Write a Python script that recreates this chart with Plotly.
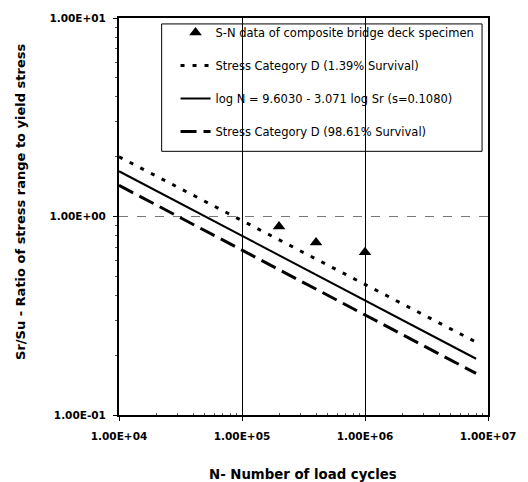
import plotly.graph_objects as go

# ---- data ----
fit_N = [1e4, 8e6]
upper_ratio = [2.0, 0.233]      # Stress Category D (1.39% Survival)
mean_ratio = [1.69, 0.192]      # log N = 9.6030 - 3.071 log Sr
lower_ratio = [1.435, 0.162]    # Stress Category D (98.61% Survival)

test_N = [2e5, 4e5, 1e6]
test_ratio = [0.89, 0.74, 0.66]

x_tickvals = [1e4, 1e5, 1e6, 1e7]
x_ticktext = ["1.00E+04", "1.00E+05", "1.00E+06", "1.00E+07"]
y_tickvals = [0.1, 1, 10]
y_ticktext = ["1.00E-01", "1.00E+00", "1.00E+01"]

names = [
    "S-N data of composite bridge deck specimen",
    "Stress Category D (1.39% Survival)",
    "log N = 9.6030 - 3.071 log Sr (s=0.1080)",
    "Stress Category D (98.61% Survival)",
]

x_minor = [m * 10 ** e for e in range(4, 7) for m in range(2, 10)]
y_minor = [m * 10 ** e for e in range(-1, 1) for m in range(2, 10)]

FONT = "DejaVu Sans, sans-serif"

fig = go.Figure()
fig.add_trace(go.Scatter(x=test_N, y=test_ratio, mode="markers", name=names[0],
                         legendgroup="a",
                         marker=dict(symbol="triangle-up", size=11, color="black")))
fig.add_trace(go.Scatter(x=fit_N, y=upper_ratio, mode="lines", name=names[1],
                         legendgroup="b",
                         line=dict(color="black", width=3, dash="4px,8px")))
fig.add_trace(go.Scatter(x=fit_N, y=mean_ratio, mode="lines", name=names[2],
                         legendgroup="c",
                         line=dict(color="black", width=2)))
fig.add_trace(go.Scatter(x=fit_N, y=lower_ratio, mode="lines", name=names[3],
                         legendgroup="d",
                         line=dict(color="black", width=3, dash="16px,7px")))

L, R, T, B = 119, 491, 13, 415
W, H = 528, 482
pw, ph = R - L, B - T


def px_x(p):
    return (p - L) / pw


def px_y(p):
    return (B - p) / ph


tickfont = dict(size=10.5, family=FONT, color="black", weight="bold")

fig.update_layout(
    width=W, height=H,
    margin=dict(l=L, r=W - R, t=T, b=H - B),
    paper_bgcolor="white", plot_bgcolor="white",
    font=dict(family=FONT, color="black"),
    showlegend=True,
    legend=dict(x=px_x(176), y=px_y(13), xanchor="left", yanchor="top",
                bgcolor="rgba(0,0,0,0)", borderwidth=0,
                font=dict(size=11.5, family=FONT, color="black"),
                traceorder="grouped", tracegroupgap=14),
    xaxis=dict(type="log", range=[4, 7], tickmode="array",
               tickvals=x_tickvals, ticktext=x_ticktext, tickfont=tickfont,
               ticklabelstandoff=6,
               showline=True, linecolor="black", linewidth=2, mirror=True,
               ticks="outside", ticklen=4, tickcolor="black",
               showgrid=True, gridcolor="black", gridwidth=1,
               zeroline=False,
               minor=dict(tickmode="array", tickvals=x_minor, ticks="inside",
                          ticklen=2, tickcolor="#555", showgrid=False)),
    yaxis=dict(type="log", range=[-1, 1], tickmode="array",
               tickvals=y_tickvals, ticktext=y_ticktext, tickfont=tickfont,
               ticklabelstandoff=5,
               showline=True, linecolor="black", linewidth=2, mirror=True,
               ticks="outside", ticklen=4, tickcolor="black",
               showgrid=True, gridcolor="#777", gridwidth=1, griddash="dash",
               zeroline=False,
               minor=dict(tickmode="array", tickvals=y_minor, ticks="outside",
                          ticklen=2, tickcolor="#555", showgrid=False)),
)

# legend box
fig.add_shape(type="rect", xref="paper", yref="paper",
              x0=px_x(162), x1=px_x(485), y0=px_y(148), y1=px_y(19),
              line=dict(color="black", width=1), fillcolor="white", layer="below")

# axis titles
fig.add_annotation(text="N- Number of load cycles", xref="paper", yref="paper",
                   x=px_x(304), y=px_y(475), xanchor="center", yanchor="middle",
                   showarrow=False,
                   font=dict(size=13.3, family=FONT, color="black", weight="bold"))
fig.add_annotation(text="Sr/Su - Ratio of stress range to yield stress",
                   xref="paper", yref="paper", textangle=-90,
                   x=px_x(19), y=px_y(361), xanchor="center", yanchor="bottom",
                   showarrow=False,
                   font=dict(size=13, family=FONT, color="black", weight="bold"))

fig.write_html("out.html")
